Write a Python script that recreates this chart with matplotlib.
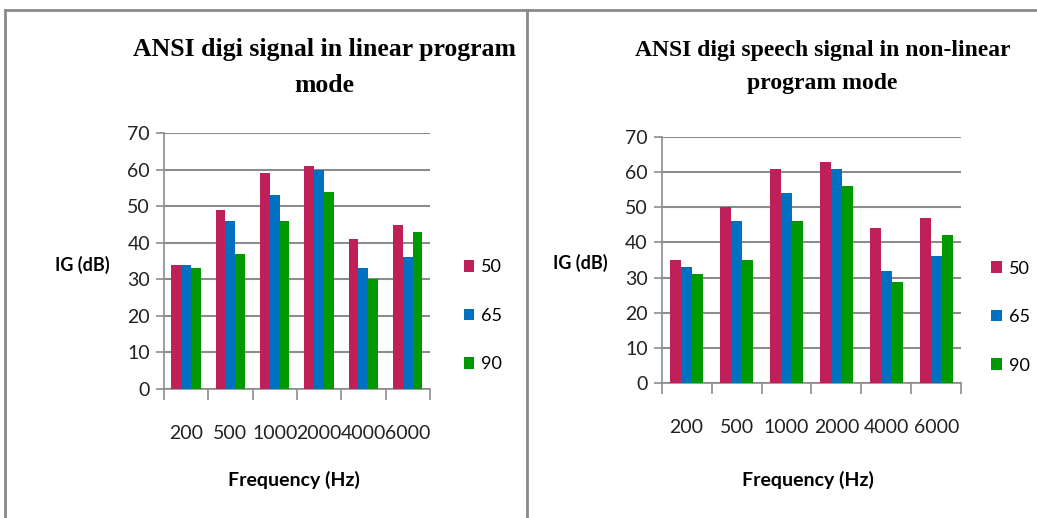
#!/usr/bin/env python3
import matplotlib
matplotlib.use('Agg')
import matplotlib.pyplot as plt
from matplotlib.lines import Line2D

# data
frequencies = ['200', '500', '1000', '2000', '4000', '6000']
series_names = ['50', '65', '90']

linear_50 = [34, 49, 59, 61, 41, 45]
linear_65 = [34, 46, 53, 60, 33, 36]
linear_90 = [33, 37, 46, 54, 30, 43]

nonlinear_50 = [35, 50, 61, 63, 44, 47]
nonlinear_65 = [33, 46, 54, 61, 32, 36]
nonlinear_90 = [31, 35, 46, 56, 28.7, 42]

colors = ['#C0205A', '#0070C0', '#009A00']
grid_color = '#8c8c8c'
sans = ['Lato', 'DejaVu Sans']
serif = ['Liberation Serif', 'DejaVu Serif']


def draw_panel(fig, rect, series, title, title_xy, title_size, ylabel_xy, legend_anchor, tick_pad):
    ax = fig.add_axes(rect)
    width = 0.22
    for i, values in enumerate(series):
        xs = [k + (i - 1) * width for k in range(len(frequencies))]
        ax.bar(xs, values, width=width, color=colors[i], label=series_names[i], zorder=3)

    ax.set_ylim(0, 70)
    ax.set_yticks(range(0, 71, 10))
    ax.set_xlim(-0.5, len(frequencies) - 0.5)
    # tick marks sit between categories, labels at the centres
    ax.set_xticks([k - 0.5 for k in range(len(frequencies) + 1)])
    ax.set_xticklabels([])
    ax.set_xticks(range(len(frequencies)), minor=True)
    ax.set_xticklabels(frequencies, minor=True, fontfamily=sans, fontsize=14, color='#222222')
    ax.tick_params(axis='x', which='major', length=8, width=1.2, color=grid_color, direction='out')
    ax.tick_params(axis='x', which='minor', length=0, pad=tick_pad)
    ax.tick_params(axis='y', length=6, width=1.2, color=grid_color, pad=4, labelsize=14)
    for lbl in ax.get_yticklabels():
        lbl.set_fontfamily(sans)
        lbl.set_color('#222222')

    ax.yaxis.grid(True, color=grid_color, linewidth=1.5, zorder=0)
    for side in ['top', 'right']:
        ax.spines[side].set_visible(False)
    for side in ['left', 'bottom']:
        ax.spines[side].set_color(grid_color)
        ax.spines[side].set_linewidth(1.2)

    fig.text(title_xy[0], title_xy[1], title, ha='center', va='center', fontfamily=serif,
             fontweight='bold', fontsize=title_size, linespacing=1.75)
    fig.text(ylabel_xy[0], ylabel_xy[1], 'IG (dB)', ha='center', va='center', fontfamily=sans,
             fontweight='bold', fontsize=13)
    fig.text(rect[0] + rect[2] / 2 - 0.003, 0.073, 'Frequency (Hz)', ha='center', va='center',
             fontfamily=sans, fontweight='bold', fontsize=14)

    ax.legend(loc='center left', bbox_to_anchor=legend_anchor, bbox_transform=fig.transFigure,
              frameon=False, prop={'family': sans, 'size': 13}, handlelength=0.6, handleheight=0.6,
              handletextpad=0.35, labelspacing=1.8, borderaxespad=0, borderpad=0)
    return ax


def main():
    fig = plt.figure(figsize=(10.37, 5.18), dpi=100)

    draw_panel(fig, [0.158, 0.249, 0.2565, 0.494], [linear_50, linear_65, linear_90],
               'ANSI digi signal in linear program\nmode', (0.313, 0.870), 18.5, (0.079, 0.488),
               (0.447, 0.390), 26)
    draw_panel(fig, [0.638, 0.2606, 0.289, 0.475], [nonlinear_50, nonlinear_65, nonlinear_90],
               'ANSI digi speech signal in non-linear\nprogram mode', (0.793, 0.870), 17, (0.56, 0.493),
               (0.956, 0.388), 26)

    # screenshot frame lines
    frame = dict(color='#8a8a8a', linewidth=2, transform=fig.transFigure)
    fig.add_artist(Line2D([0.005, 1.0], [0.981, 0.981], **frame))
    fig.add_artist(Line2D([0.005, 0.005], [0.0, 0.981], **frame))
    fig.add_artist(Line2D([0.508, 0.508], [0.0, 0.981], **frame))

    plt.savefig('out.png', dpi=100)


if __name__ == '__main__':
    main()
